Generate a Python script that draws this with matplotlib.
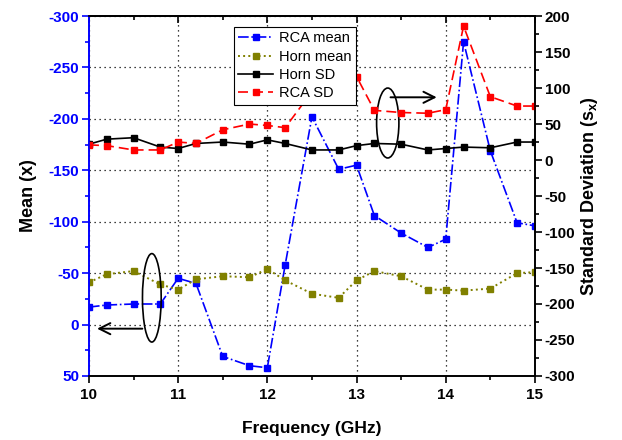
import matplotlib
matplotlib.use('Agg')
import matplotlib.pyplot as plt
from matplotlib.patches import Ellipse
from matplotlib.ticker import MultipleLocator

plt.rcParams['font.family'] = ['Liberation Sans', 'DejaVu Sans']
plt.rcParams['font.weight'] = 'bold'
plt.rcParams['axes.unicode_minus'] = False
plt.rcParams['mathtext.fontset'] = 'custom'
plt.rcParams['mathtext.bf'] = 'Liberation Sans:bold'
plt.rcParams['mathtext.rm'] = 'Liberation Sans:bold'

# data
freq = [10, 10.2, 10.5, 10.8, 11, 11.2, 11.5, 11.8, 12, 12.2, 12.5,
        12.8, 13, 13.2, 13.5, 13.8, 14, 14.2, 14.5, 14.8, 15]
rca_mean = [-17, -19, -20, -20, -45, -40, 31, 40, 42, -58, -202,
            -151, -155, -106, -89, -75, -83, -275, -169, -99, -96]
horn_mean = [-41, -49, -52, -39, -34, -44, -47, -46, -54, -43, -30,
             -26, -43, -52, -47, -34, -34, -33, -35, -50, -51]
horn_sd = [22, 29, 31, 18, 16, 23, 25, 22, 28, 23, 14,
           14, 20, 23, 22, 14, 16, 18, 17, 25, 25]
rca_sd = [21, 20, 14, 14, 25, 23, 42, 50, 48, 45, 95,
          112, 116, 69, 66, 65, 70, 186, 88, 75, 75]

blue = '#0000FF'
olive = '#808000'

fig = plt.figure(figsize=(6.22, 4.40), dpi=100)
ax = fig.add_axes([0.143, 0.1455, 0.717, 0.818])
ax2 = ax.twinx()

l1, = ax.plot(freq, rca_mean, color=blue, ls='-.', lw=1.2, marker='s',
              ms=5, label='RCA mean')
l2, = ax.plot(freq, horn_mean, color=olive, ls=':', lw=1.4, marker='s',
              ms=5, label='Horn mean')
l3, = ax2.plot(freq, horn_sd, color='black', ls='-', lw=1.2, marker='s',
               ms=5, label='Horn SD')
l4, = ax2.plot(freq, rca_sd, color='red', ls=(0, (6, 3)), lw=1.2, marker='s',
               ms=5, label='RCA SD')

ax.set_xlim(10, 15)
ax.set_ylim(50, -300)
ax2.set_ylim(-300, 200)

ax.xaxis.set_major_locator(MultipleLocator(1))
ax.xaxis.set_minor_locator(MultipleLocator(0.5))
ax.yaxis.set_major_locator(MultipleLocator(50))
ax.yaxis.set_minor_locator(MultipleLocator(25))
ax2.yaxis.set_major_locator(MultipleLocator(50))
ax2.yaxis.set_minor_locator(MultipleLocator(25))

ax.grid(True, color='black', ls=(0, (1, 3)), lw=0.9)

ax.tick_params(axis='x', which='both', direction='out', top=False,
               labelsize=11, width=1.2, pad=4)
ax.tick_params(axis='x', which='major', length=5)
ax.tick_params(axis='x', which='minor', length=3)
ax.tick_params(axis='y', which='both', direction='out', colors=blue,
               labelsize=11, width=1.2, pad=2)
ax.tick_params(axis='y', which='major', length=5)
ax.tick_params(axis='y', which='minor', length=3)
ax2.tick_params(axis='y', which='both', direction='out', labelsize=11,
                width=1.2, pad=2)
ax2.tick_params(axis='y', which='major', length=5)
ax2.tick_params(axis='y', which='minor', length=3)

# top axis ticks pointing inward
top = ax.secondary_xaxis('top')
top.xaxis.set_major_locator(MultipleLocator(1))
top.xaxis.set_minor_locator(MultipleLocator(0.5))
top.tick_params(which='both', direction='in', labeltop=False, width=1.2)
top.tick_params(which='major', length=5)
top.tick_params(which='minor', length=3)
top.spines['top'].set_linewidth(1.2)

for sp in ax.spines.values():
    sp.set_linewidth(1.2)
for sp in ax2.spines.values():
    sp.set_linewidth(1.2)
ax2.spines['left'].set_color(blue)
ax.spines['left'].set_color(blue)

for lab in ax.get_xticklabels() + ax.get_yticklabels() + ax2.get_yticklabels():
    lab.set_fontweight('bold')

ax.set_xlabel('Frequency (GHz)', fontsize=12.5, fontweight='bold', labelpad=13)
ax.set_ylabel('Mean (x)', fontsize=13, fontweight='bold', labelpad=8)
ax2.set_ylabel(r'Standard Deviation (s$_{\mathbf{x}}$)', fontsize=13,
               fontweight='bold', labelpad=3)

# ellipses and arrows marking which axis each group belongs to
ax.add_patch(Ellipse((13.35, -196), 0.25, 68, fill=False, ec='black', lw=1.2,
                     zorder=5))
ax.annotate('', xy=(13.93, -221), xytext=(13.35, -221),
            arrowprops=dict(arrowstyle='->,head_length=0.8,head_width=0.4',
                            color='black', lw=1.4), zorder=5)
ax.add_patch(Ellipse((10.705, -26), 0.21, 86, fill=False, ec='black', lw=1.2,
                     zorder=5))
ax.annotate('', xy=(10.06, 4), xytext=(10.63, 4),
            arrowprops=dict(arrowstyle='->,head_length=0.8,head_width=0.4',
                            color='black', lw=1.4), zorder=5)

leg = ax2.legend(handles=[l1, l2, l3, l4], loc='upper left',
                 bbox_to_anchor=(0.325, 0.97), borderaxespad=0,
                 labelspacing=0.3, handlelength=2.4,
                 handletextpad=0.4, borderpad=0.3, fancybox=False,
                 framealpha=1, edgecolor='black',
                 prop={'family': 'Liberation Sans', 'weight': 'normal',
                       'size': 10.5})
leg.get_frame().set_linewidth(0.8)
leg.set_zorder(10)

fig.savefig('out.png', dpi=100)
